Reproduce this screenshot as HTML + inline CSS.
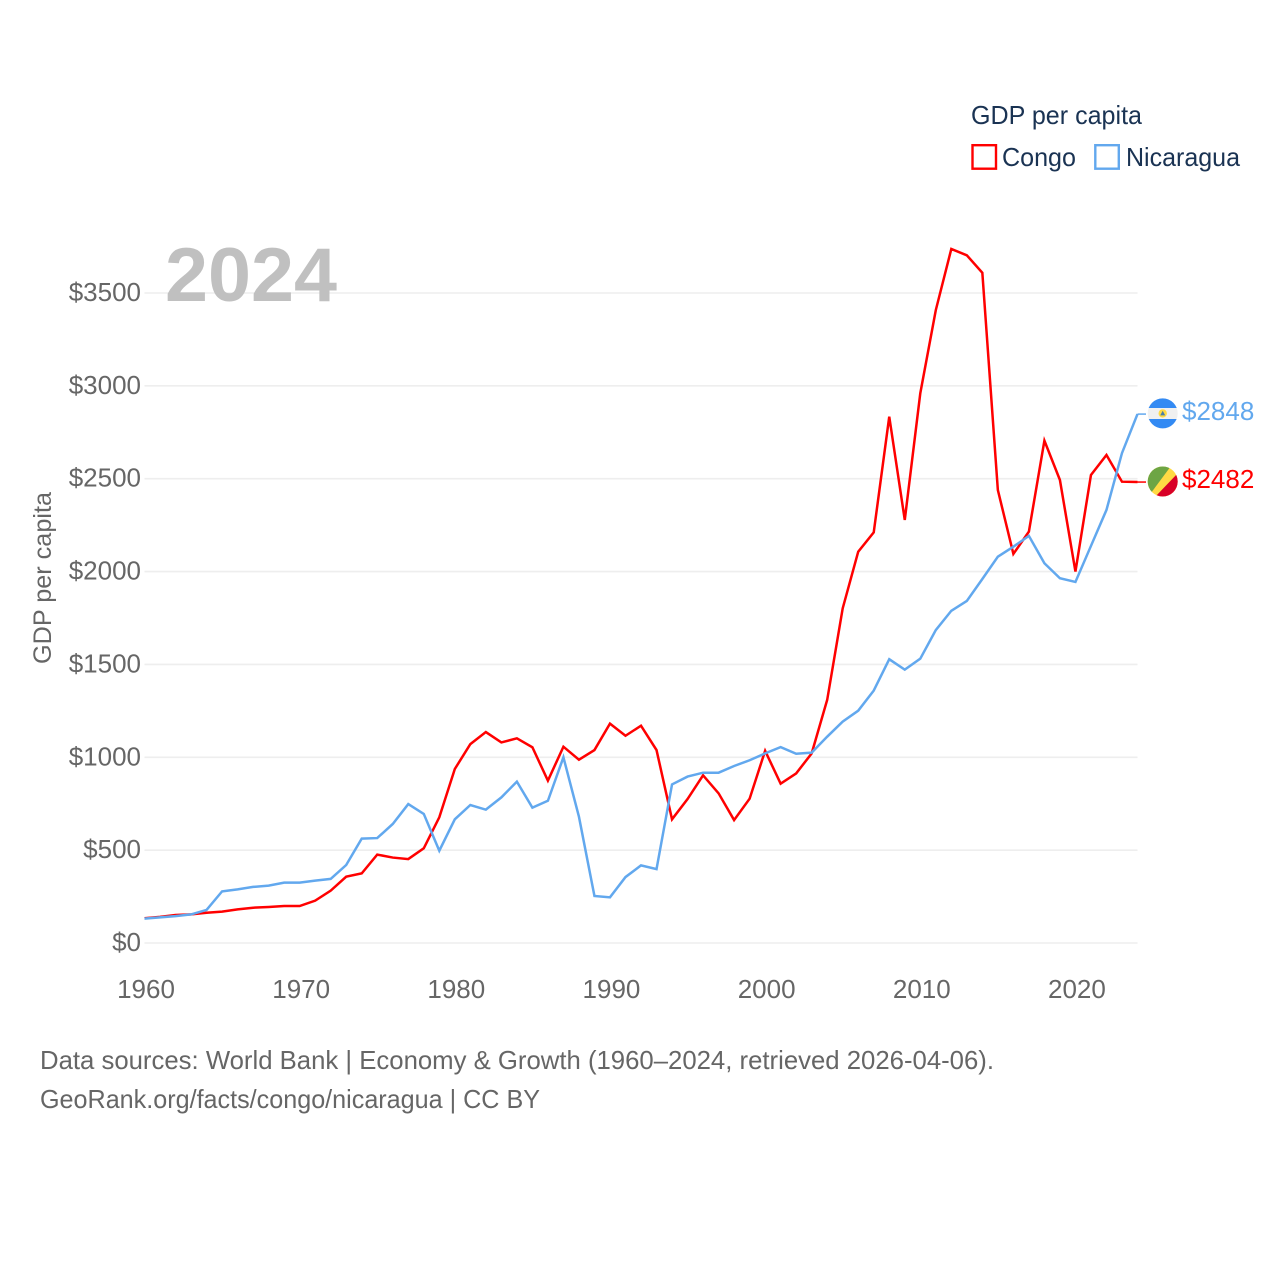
<!DOCTYPE html>
<html lang="en">
<head>
<meta charset="utf-8">
<title>GDP per capita: Congo and Nicaragua</title>
<style>
  html, body { margin: 0; padding: 0; background: #fff; }
  #chart { display: block; width: 1280px; height: 1280px; }
  text { font-family: "Liberation Sans", sans-serif; }
</style>
</head>
<body>
<svg id="chart" xmlns="http://www.w3.org/2000/svg" width="1280" height="1280" viewBox="0 0 1280 1280">
  <defs>
    <clipPath id="flag-clip-ni"><circle cx="1162.7" cy="413.4" r="15"/></clipPath>
    <clipPath id="flag-clip-cg"><circle cx="1162.7" cy="481.5" r="15"/></clipPath>
  </defs>
  <rect x="0" y="0" width="1280" height="1280" fill="#fff"/>
  <g id="grid"></g>
  <g id="y-ticks"></g>
  <g id="x-ticks"></g>
  <text x="165" y="301" font-size="76" font-weight="700" fill="#c0c0c0" textLength="172" lengthAdjust="spacingAndGlyphs">2024</text>
  <text transform="translate(51,664) rotate(-90)" font-size="25" fill="#666" textLength="172" lengthAdjust="spacingAndGlyphs">GDP per capita</text>
  <g id="series"></g>
  <g id="end-labels"></g>

  <g clip-path="url(#flag-clip-ni)">
    <rect x="1147" y="398" width="32" height="31" fill="#f0f0f0"/>
    <rect x="1147" y="398" width="32" height="10" fill="#338af3"/>
    <rect x="1147" y="419" width="32" height="10" fill="#338af3"/>
    <circle cx="1162.7" cy="413.4" r="4.2" fill="#ffda44"/>
    <path d="M1160.2 415.4 L1162.7 410.8 L1165.2 415.4 Z" fill="#4a7fa8"/>
  </g>
  <g clip-path="url(#flag-clip-cg)">
    <rect x="1147" y="466" width="32" height="32" fill="#ffda44"/>
    <path d="M1147 466 H1171 L1148 497 H1147 Z" fill="#6da544"/>
    <path d="M1179 497 H1155 L1179 472 Z" fill="#d80027"/>
  </g>

  <g>
    <text x="971" y="124" font-size="26" fill="#1a3353" textLength="171" lengthAdjust="spacingAndGlyphs">GDP per capita</text>
    <g>
      <rect x="972.5" y="145.2" width="23.5" height="23.5" fill="#fff" stroke="#ff0000" stroke-width="2.4"/>
      <text x="1002" y="166" font-size="26" fill="#1a3353" textLength="74" lengthAdjust="spacingAndGlyphs">Congo</text>
    </g>
    <g>
      <rect x="1095.3" y="145.2" width="23.5" height="23.5" fill="#fff" stroke="#62a8ee" stroke-width="2.4"/>
      <text x="1126" y="166" font-size="26" fill="#1a3353" textLength="114" lengthAdjust="spacingAndGlyphs">Nicaragua</text>
    </g>
  </g>

  <text x="40" y="1069" font-size="26" fill="#666" textLength="954" lengthAdjust="spacingAndGlyphs">Data sources: World Bank | Economy &amp; Growth (1960–2024, retrieved 2026-04-06).</text>
  <text x="40" y="1108" font-size="26" fill="#666" textLength="500" lengthAdjust="spacingAndGlyphs">GeoRank.org/facts/congo/nicaragua | CC BY</text>
</svg>

<script>
const startYear = 1960;
const yTickValues = [0, 500, 1000, 1500, 2000, 2500, 3000, 3500];
const xTickYears = [1960, 1970, 1980, 1990, 2000, 2010, 2020];
const congoValues = [
  133, 141, 151, 154, 163, 169, 181, 190, 194, 199,
  199, 228, 282, 357, 375, 476, 460, 452, 510, 677,
  937, 1071, 1136, 1080, 1102, 1054, 874, 1057, 987, 1039,
  1181, 1116, 1170, 1039, 666, 775, 903, 806, 662, 777,
  1035, 858, 913, 1021, 1309, 1802, 2107, 2211, 2834, 2278,
  2960, 3408, 3737, 3703, 3609, 2439, 2095, 2215, 2705, 2493,
  2000, 2520, 2628, 2484, 2482
];
const nicaraguaValues = [
  131, 138, 145, 154, 178, 278, 289, 302, 309, 325,
  325, 336, 345, 420, 562, 565, 641, 748, 695, 497,
  666, 743, 718, 784, 869, 729, 766, 1000, 680, 253,
  246, 355, 418, 398, 854, 896, 917, 917, 953, 984,
  1021, 1055, 1019, 1025, 1111, 1192, 1251, 1359, 1528, 1472,
  1531, 1685, 1789, 1842, 1960, 2080, 2134, 2192, 2045, 1964,
  1944, 2138, 2332, 2638, 2848
];

const SVG_NS = 'http://www.w3.org/2000/svg';
const plot = { left: 144.5, right: 1137.5, zero: 943, top: 293, maxValue: 3500, years: 64 };
function xScale(year) {
  return plot.left + (year - startYear) * (plot.right - plot.left) / plot.years;
}
function yScale(value) {
  return plot.zero - value * (plot.zero - plot.top) / plot.maxValue;
}
function make(tag, attrs) {
  const el = document.createElementNS(SVG_NS, tag);
  for (const key in attrs) el.setAttribute(key, attrs[key]);
  return el;
}
function linePoints(values) {
  return values.map((v, i) => xScale(startYear + i).toFixed(2) + ',' + yScale(v).toFixed(2)).join(' ');
}

const grid = document.getElementById('grid');
const yTicks = document.getElementById('y-ticks');
yTickValues.forEach(function (v) {
  const line = make('line', { x1: plot.left, x2: plot.right, y1: yScale(v), y2: yScale(v), stroke: '#eeeeee', 'stroke-width': 1.6 });
  
  
  grid.appendChild(line);
  const label = make('text', { x: 141, y: yScale(v) + 8, 'text-anchor': 'end', 'font-size': 26, fill: '#666' });
  
  
  label.textContent = '$' + v;
  yTicks.appendChild(label);
});

const xTicks = document.getElementById('x-ticks');
xTickYears.forEach(function (year) {
  const label = make('text', { x: xScale(year) + 1.5, y: 998, 'text-anchor': 'middle', 'font-size': 26, fill: '#666' });
  
  
  label.textContent = String(year);
  xTicks.appendChild(label);
});

const series = document.getElementById('series');
const congoLine = make('polyline', { points: linePoints(congoValues), fill: 'none', stroke: '#ff0000', 'stroke-width': 2.5, 'stroke-linejoin': 'miter' });


series.appendChild(congoLine);
const nicaraguaLine = make('polyline', { points: linePoints(nicaraguaValues), fill: 'none', stroke: '#62a8ee', 'stroke-width': 2.5, 'stroke-linejoin': 'miter' });


series.appendChild(nicaraguaLine);

const endLabels = document.getElementById('end-labels');
const lastYear = startYear + plot.years;
const congoLast = congoValues[congoValues.length - 1];
const nicaraguaLast = nicaraguaValues[nicaraguaValues.length - 1];

const congoLeader = make('line', { x1: xScale(lastYear), x2: 1146, y1: yScale(congoLast), y2: yScale(congoLast), stroke: '#ff0000', 'stroke-width': 1.5 });


endLabels.appendChild(congoLeader);
const nicaraguaLeader = make('line', { x1: xScale(lastYear), x2: 1146, y1: yScale(nicaraguaLast), y2: yScale(nicaraguaLast), stroke: '#62a8ee', 'stroke-width': 1.5 });


endLabels.appendChild(nicaraguaLeader);

const congoLabel = make('text', { x: 1182, y: yScale(congoLast) + 6, 'font-size': 26, fill: '#ff0000' });


congoLabel.textContent = '$' + congoLast;
endLabels.appendChild(congoLabel);
const nicaraguaLabel = make('text', { x: 1182, y: yScale(nicaraguaLast) + 6, 'font-size': 26, fill: '#62a8ee' });


nicaraguaLabel.textContent = '$' + nicaraguaLast;
endLabels.appendChild(nicaraguaLabel);
</script>
</body>
</html>
